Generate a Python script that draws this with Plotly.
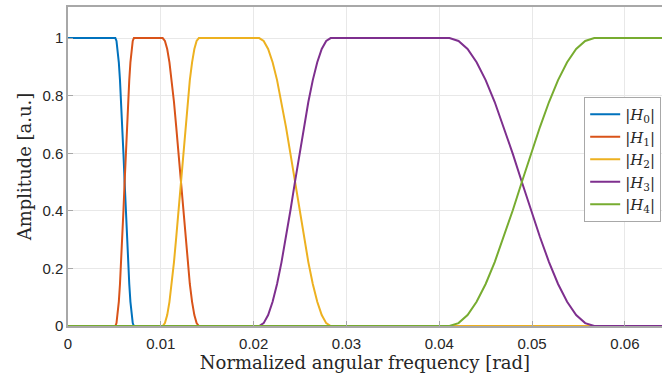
import plotly.graph_objects as go

# Transition points (normalized angular frequency, rad)
t0_x = [0.0051, 0.005225, 0.00535, 0.005475, 0.0056, 0.005725, 0.00585, 0.005975, 0.0061,
        0.006225, 0.00635, 0.006475, 0.0066, 0.006725, 0.00685, 0.006975, 0.0071]
t1_x = [0.0102, 0.010444, 0.010688, 0.010931, 0.011175, 0.011419, 0.011663, 0.011906, 0.01215,
        0.012394, 0.012638, 0.012881, 0.013125, 0.013369, 0.013613, 0.013856, 0.0141]
t2_x = [0.0206, 0.021081, 0.021563, 0.022044, 0.022525, 0.023006, 0.023488, 0.023969, 0.02445,
        0.024931, 0.025413, 0.025894, 0.026375, 0.026856, 0.027338, 0.027819, 0.0283]
t3_x = [0.0411, 0.042075, 0.04305, 0.044025, 0.045, 0.045975, 0.04695, 0.047925, 0.0489,
        0.049875, 0.05085, 0.051825, 0.0528, 0.053775, 0.05475, 0.055725, 0.0567]
rise_y = [0, 0.01, 0.038, 0.084, 0.146, 0.222, 0.309, 0.402, 0.5,
          0.598, 0.691, 0.778, 0.854, 0.916, 0.962, 0.99, 1]
fall_y = [1, 0.99, 0.962, 0.916, 0.854, 0.778, 0.691, 0.598, 0.5,
          0.402, 0.309, 0.222, 0.146, 0.084, 0.038, 0.01, 0]
x_start = 0.0
x_end = 0.064

h0_x = [x_start] + t0_x + [x_end]
h0_y = [1] + fall_y + [0]
h1_x = [x_start] + t0_x + t1_x + [x_end]
h1_y = [0] + rise_y + fall_y + [0]
h2_x = [x_start] + t1_x + t2_x + [x_end]
h2_y = [0] + rise_y + fall_y + [0]
h3_x = [x_start] + t2_x + t3_x + [x_end]
h3_y = [0] + rise_y + fall_y + [0]
h4_x = [x_start] + t3_x + [x_end]
h4_y = [0] + rise_y + [1]

names = ["|<i>H</i><sub>0</sub>|", "|<i>H</i><sub>1</sub>|", "|<i>H</i><sub>2</sub>|",
         "|<i>H</i><sub>3</sub>|", "|<i>H</i><sub>4</sub>|"]
colors = ["#0072BD", "#D95319", "#EDB120", "#7E2F8E", "#77AC30"]
series = [(h0_x, h0_y), (h1_x, h1_y), (h2_x, h2_y), (h3_x, h3_y), (h4_x, h4_y)]

x_ticks = [0, 0.01, 0.02, 0.03, 0.04, 0.05, 0.06]
x_ticklabels = ["0", "0.01", "0.02", "0.03", "0.04", "0.05", "0.06"]
y_ticks = [0, 0.2, 0.4, 0.6, 0.8, 1]
y_ticklabels = ["0", "0.2", "0.4", "0.6", "0.8", "1"]

fig = go.Figure()
for (xs, ys), n, c in zip(series, names, colors):
    fig.add_trace(go.Scatter(x=xs, y=ys, mode="lines", name=n,
                             line=dict(color=c, width=2)))

axis_common = dict(
    showgrid=True, gridcolor="#e8e8e8", gridwidth=1,
    showline=True, linecolor="#a8a8a8", linewidth=1.5,
    ticks="inside", ticklen=5, tickcolor="#a8a8a8",
    tickfont=dict(family="Liberation Sans, Arial", size=15, color="#262626"),
    zeroline=False,
)

fig.update_layout(
    width=662, height=376,
    margin=dict(l=68, r=0, t=7, b=50),
    paper_bgcolor="white", plot_bgcolor="white",
    showlegend=True,
    legend=dict(
        x=0.869, y=0.718, xanchor="left", yanchor="top",
        bgcolor="white", bordercolor="#a8a8a8", borderwidth=1,
        font=dict(family="DejaVu Serif, serif", size=15, color="#262626"),
        tracegroupgap=0, itemwidth=30,
    ),
    xaxis=dict(
        range=[0, 0.064], tickvals=x_ticks, ticktext=x_ticklabels, mirror=True,
        ticklabelstandoff=3,
        title=dict(text="Normalized angular frequency [rad]", standoff=4,
                   font=dict(family="DejaVu Serif, serif", size=18, color="#262626")),
        **axis_common,
    ),
    yaxis=dict(
        range=[0, 1.108], tickvals=y_ticks, ticktext=y_ticklabels,
        title=dict(text="Amplitude [a.u.]", standoff=6,
                   font=dict(family="DejaVu Serif, serif", size=18, color="#262626")),
        **axis_common,
    ),
)

fig.write_html("out.html")
